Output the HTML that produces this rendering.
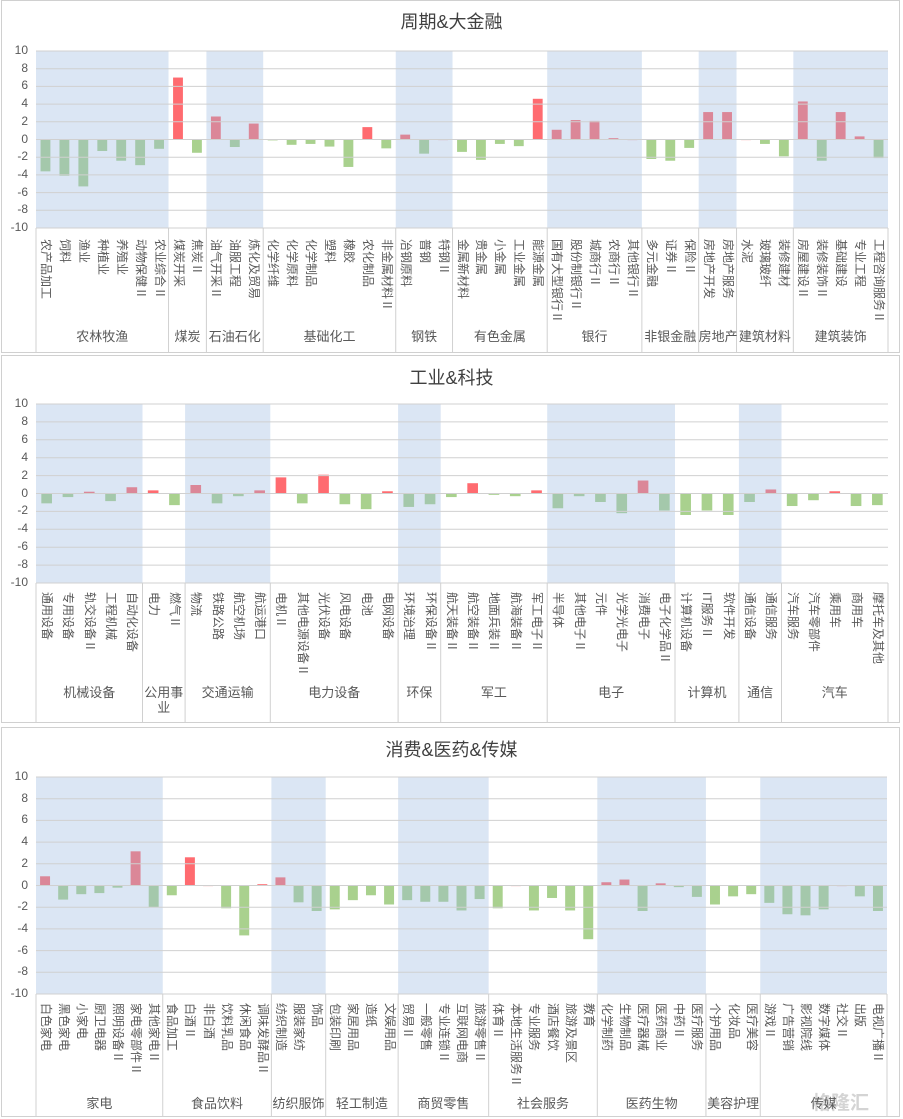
<!DOCTYPE html>
<html><head><meta charset="utf-8">
<style>
body{margin:0;background:#fff;}
#root{position:relative;width:903px;height:1119px;overflow:hidden;font-family:"Liberation Sans","Noto Sans CJK SC",sans-serif;color:#595959;}
.frame{position:absolute;left:1px;width:899px;border:1px solid #d0d0d0;box-sizing:border-box;}
.title{position:absolute;left:0;width:903px;text-align:center;font-size:18px;color:#404040;}
.vlab{position:absolute;font-size:12px;line-height:13px;height:13px;white-space:nowrap;color:#595959;transform-origin:0 0;transform:rotate(90deg);}
.glab{position:absolute;text-align:center;font-size:13px;line-height:15px;color:#595959;}
.ytick{position:absolute;width:26px;text-align:right;font-size:12px;color:#595959;}
svg{position:absolute;left:0;top:0;}
</style></head>
<body>
<div id="root">
<div class="frame" style="top:0;height:353px"></div>
<div class="frame" style="top:355px;height:368px"></div>
<div class="frame" style="top:727px;height:390px"></div>
<div class="title" style="top:8px">周期&amp;大金融</div>
<div class="title" style="top:364px">工业&amp;科技</div>
<div class="title" style="top:736px">消费&amp;医药&amp;传媒</div>
<svg id="svg" width="903" height="1119"></svg>
<div style="position:absolute;left:812px;top:1088px;font-size:19px;color:#d4d4d4;font-weight:bold">格隆汇</div>
</div>
<script>
const p1Groups=["农林牧渔","煤炭","石油石化","基础化工","钢铁","有色金属","银行","非银金融","房地产","建筑材料","建筑装饰"];
const p1GroupSizes=[7,2,3,7,3,5,5,3,2,3,5];
const p1Cats=["农产品加工","饲料","渔业","种植业","养殖业","动物保健Ⅱ","农业综合Ⅱ","煤炭开采","焦炭Ⅱ","油气开采Ⅱ","油服工程","炼化及贸易","化学纤维","化学原料","化学制品","塑料","橡胶","农化制品","非金属材料Ⅱ","冶钢原料","普钢","特钢Ⅱ","金属新材料","贵金属","小金属","工业金属","能源金属","国有大型银行Ⅱ","股份制银行Ⅱ","城商行Ⅱ","农商行Ⅱ","其他银行Ⅱ","多元金融","证券Ⅱ","保险Ⅱ","房地产开发","房地产服务","水泥","玻璃玻纤","装修建材","房屋建设Ⅱ","装修装饰Ⅱ","基础建设","专业工程","工程咨询服务Ⅱ"];
const p1Vals=[-3.6,-4.1,-5.3,-1.3,-2.4,-2.9,-1.05,7.0,-1.5,2.6,-0.85,1.8,-0.1,-0.6,-0.5,-0.8,-3.1,1.4,-1.0,0.55,-1.6,0,-1.4,-2.3,-0.5,-0.75,4.6,1.1,2.2,2.1,0.15,0,-2.2,-2.4,-0.95,3.1,3.1,0,-0.5,-1.9,4.3,-2.4,3.1,0.35,-2.1];

const p2Groups=["机械设备","公用事业","交通运输","电力设备","环保","军工","电子","计算机","通信","汽车"];
const p2GroupSizes=[5,2,4,6,2,5,6,3,2,5];
const p2Cats=["通用设备","专用设备","轨交设备Ⅱ","工程机械","自动化设备","电力","燃气Ⅱ","物流","铁路公路","航空机场","航运港口","电机Ⅱ","其他电源设备Ⅱ","光伏设备","风电设备","电池","电网设备","环境治理","环保设备Ⅱ","航天装备Ⅱ","航空装备Ⅱ","地面兵装Ⅱ","航海装备Ⅱ","军工电子Ⅱ","半导体","其他电子Ⅱ","元件","光学光电子","消费电子","电子化学品Ⅱ","计算机设备","IT服务Ⅱ","软件开发","通信设备","通信服务","汽车服务","汽车零部件","乘用车","商用车","摩托车及其他"];
const p2Vals=[-1.1,-0.4,0.2,-0.85,0.7,0.35,-1.3,0.95,-1.1,-0.3,0.35,1.8,-1.1,2.1,-1.2,-1.75,0.25,-1.5,-1.2,-0.4,1.15,-0.15,-0.3,0.35,-1.65,-0.3,-0.95,-2.2,1.45,-1.9,-2.4,-1.9,-2.4,-0.95,0.45,-1.4,-0.75,0.25,-1.4,-1.3];

const p3Groups=["家电","食品饮料","纺织服饰","轻工制造","商贸零售","社会服务","医药生物","美容护理","传媒"];
const p3GroupSizes=[7,6,3,4,5,6,6,3,7];
const p3Cats=["白色家电","黑色家电","小家电","厨卫电器","照明设备Ⅱ","家电零部件Ⅱ","其他家电Ⅱ","食品加工","白酒Ⅱ","非白酒","饮料乳品","休闲食品","调味发酵品Ⅱ","纺织制造","服装家纺","饰品","包装印刷","家居用品","造纸","文娱用品","贸易Ⅱ","一般零售","专业连锁Ⅱ","互联网电商","旅游零售Ⅱ","体育Ⅱ","本地生活服务Ⅱ","专业服务","酒店餐饮","旅游及景区","教育","化学制药","生物制品","医疗器械","医药商业","中药Ⅱ","医疗服务","个护用品","化妆品","医疗美容","游戏Ⅱ","广告营销","影视院线","数字媒体","社交Ⅱ","出版","电视广播Ⅱ"];
const p3Vals=[0.85,-1.3,-0.8,-0.7,-0.2,3.15,-2.0,-0.9,2.6,0,-2.1,-4.6,0.12,0.75,-1.55,-2.35,-2.2,-1.35,-0.9,-1.75,-1.35,-1.5,-1.5,-2.3,-1.25,-2.1,0,-2.3,-1.15,-2.3,-4.95,0.3,0.55,-2.35,0.2,-0.15,-1.05,-1.75,-1.0,-0.8,-1.6,-2.65,-2.75,-2.2,0,-1.0,-2.35];

const yTicks=[10,8,6,4,2,0,-2,-4,-6,-8,-10];

const svg=document.getElementById('svg');
const root=document.getElementById('root');
const NS='http://www.w3.org/2000/svg';
function mk(tag,attrs){const e=document.createElementNS(NS,tag);for(const k in attrs)e.setAttribute(k,attrs[k]);svg.appendChild(e);return e;}

function drawPanel(key,groups,sizes,cats,vals,L,R,top,bot,labTop,gLabTop,frameBot,barFrac){
  const n=cats.length, cw=(R-L)/n;
  const y=v=>top+(10-v)/20*(bot-top);
  const x=i=>L+i*cw;
  cats.forEach((c,i)=>{
    const v=vals[i];
    const r=mk('rect',{x:x(i)+cw*(1-barFrac)/2,y:Math.min(y(v),y(0)),width:cw*barFrac,height:Math.max(Math.abs(y(v)-y(0)),0.6),fill:v>=0?'#ff6b70':'#a9d18e'});
    
    
  });
  let s=0;
  sizes.forEach((sz,g)=>{
    if(g%2===0){
      const b=mk('rect',{x:x(s),y:top,width:sz*cw,height:bot-top,fill:'rgba(155,187,225,0.36)'});
      
      
    }
    s+=sz;
  });
  yTicks.forEach(t=>{
    const l=mk('line',{x1:L,x2:R,y1:y(t),y2:y(t),stroke:'#d0d0d0','stroke-width':1});
    
    
    const d=document.createElement('div');
    d.className='ytick';d.style.left='2px';d.style.top=(y(t)-8)+'px';d.textContent=t;
    
    
    root.appendChild(d);
  });
  s=0;
  const sepXs=[L];
  sizes.forEach((sz,g)=>{
    const gx=x(s), gw=sz*cw;
    const d=document.createElement('div');
    d.className='glab';d.style.left=gx+'px';d.style.width=gw+'px';d.style.top=gLabTop+'px';d.textContent=groups[g];
    d.style.whiteSpace=(groups[g].length*13>gw+8)?'normal':'nowrap';
    
    
    root.appendChild(d);
    s+=sz;sepXs.push(x(s));
  });
  sepXs.forEach(sx=>{
    const l=mk('line',{x1:sx,x2:sx,y1:bot,y2:frameBot,stroke:'#d0d0d0','stroke-width':1});
    
    
  });
  cats.forEach((c,i)=>{
    const d=document.createElement('div');
    d.className='vlab';d.style.left=(x(i)+cw/2+6.5)+'px';d.style.top=labTop+'px';d.textContent=c;
    
    
    root.appendChild(d);
  });
}
drawPanel('p1',p1Groups,p1GroupSizes,p1Cats,p1Vals,36,888,51,228,239,329,352,0.52);
drawPanel('p2',p2Groups,p2GroupSizes,p2Cats,p2Vals,36,888,404,583,592,685,722,0.5);
drawPanel('p3',p3Groups,p3GroupSizes,p3Cats,p3Vals,36,887,777,994,1003,1096,1116,0.55);
</script>
</body></html>
